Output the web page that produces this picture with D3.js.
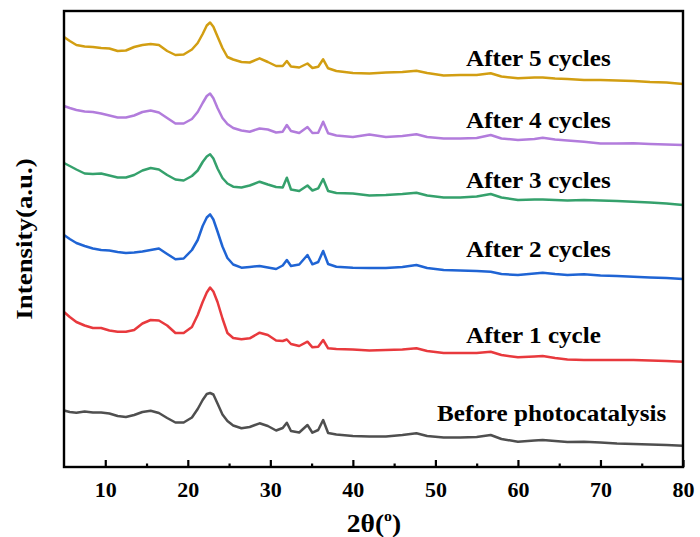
<!DOCTYPE html>
<html>
<head>
<meta charset="utf-8">
<script src="https://cdn.jsdelivr.net/npm/d3@7/dist/d3.min.js"></script>
<style>
  body { margin: 0; background: #fff; }
  svg text { font-family: "Liberation Serif", "Times New Roman", serif; font-weight: bold; fill: #000; }
</style>
</head>
<body>
<div id="wrapper"></div>
<script>
// 2theta (degres) commun a toutes les courbes
var twoTheta = [5, 5.7, 6.5, 7.5, 8.5, 9.5, 10.5, 11.5, 12.5, 13.5, 14.5, 15.5, 16.5, 17.5, 18.5, 19.5,
  20.5, 21.2, 21.8, 22.3, 22.7, 23.1, 23.6, 24.2, 24.8, 25.5, 26.5, 27.5, 28.7, 29.7, 30.7, 31.5,
  32.0, 32.5, 33.5, 34.5, 35.1, 35.8, 36.4, 37.0, 38, 40, 42, 44, 46, 47.7, 49, 51,
  53, 55, 56.7, 58, 60, 62, 63, 64.5, 66, 68, 70, 72, 74, 76, 78, 80];

// intensites (a.u., deja decalees verticalement)
var beforeCat = [56.5, 55, 54.3, 55.5, 54.5, 54.5, 53.5, 51, 50, 52, 55, 56.3, 54, 49, 44.5, 44.5,
  49.5, 58, 67, 73, 74, 72.5, 63.5, 52.5, 46, 41.5, 38.7, 40, 43.7, 41, 36.5, 39,
  44.3, 36, 34.5, 42, 34.3, 37, 47, 34, 32.5, 31, 30.5, 30.5, 32, 33.7, 31, 29.5,
  29.5, 30, 32, 28, 25.3, 26.5, 27, 26, 25, 25.3, 24.5, 23.5, 23, 22.5, 22, 21.3];
var after1 = [155, 150, 145, 141.5, 139, 139, 136.5, 135.3, 135.3, 137, 143.5, 147, 146.5, 141.5, 134, 134,
  140, 152, 165, 174.5, 179.5, 175.5, 165, 148.5, 134, 129, 127.7, 128.7, 134.3, 132, 126.5, 126,
  127.5, 123, 121, 125.3, 119.7, 120.3, 127, 118.7, 118, 117.5, 116.5, 117, 117.5, 118.7, 116, 114,
  114, 114, 115.3, 112, 109.7, 110.5, 111, 109, 107.5, 107, 107, 107, 107, 106.5, 106, 105.3];
var after2 = [232, 228, 224, 221, 218.5, 217, 216.5, 215, 214, 214.5, 215.5, 217, 218.5, 213, 207.7, 208.5,
  217, 227, 241, 249.5, 252.7, 247.5, 235.5, 220.5, 209, 202.5, 199.3, 200, 201, 199.5, 198, 201.5,
  207, 201, 202.5, 212, 202.7, 205, 216, 203, 200.3, 199.3, 199, 199, 200, 202, 199, 197,
  196.5, 196, 195.3, 193, 192, 193.5, 194.3, 193, 192, 192.7, 191.5, 191, 190.3, 189.5, 189, 188];
var after3 = [304, 301, 297.5, 293.5, 293, 293.5, 291.5, 289.5, 289.5, 292, 296.5, 299, 297.5, 292, 287.5, 286.5,
  291, 296.5, 305, 310.5, 312.7, 308.5, 298.5, 289, 283.5, 280.3, 279.5, 281.5, 285.3, 282.5, 280, 279.5,
  289.3, 277.5, 276, 281.5, 276.5, 278.7, 288, 276, 274, 273.5, 271.5, 272, 273, 274.3, 271.5, 269.5,
  269.5, 270.5, 273, 269.5, 267, 267.5, 267.5, 267, 266.5, 267, 266.5, 266, 265.3, 264.5, 263.5, 262];
var after4 = [361, 359, 357, 355.5, 355, 353.5, 351.5, 349.5, 349.5, 351.5, 355, 356.5, 354.5, 349, 343.5, 343.5,
  348, 355, 364, 371, 373.5, 368.7, 359, 349, 343, 339, 336.5, 335.3, 338.5, 337.5, 334.5, 335.3,
  342, 336, 334, 340, 334, 334.3, 345.3, 333.7, 331.5, 330, 332.5, 330, 331, 332.7, 330, 328.5,
  328.5, 329, 332, 328.5, 327, 328, 329.3, 327.5, 326.5, 325.3, 323.5, 323.5, 323.7, 323, 322.5, 322];
var after5 = [430, 426, 422, 420.5, 420, 419, 418.5, 416, 416.5, 420, 422, 423, 422, 416, 412, 412.5,
  417.5, 424, 433, 441.5, 444.5, 440.3, 430.5, 419, 410, 407.5, 405, 404.5, 408.7, 405, 401, 401,
  406, 400.5, 399.5, 403.5, 399, 400.3, 407.7, 398.7, 396, 394, 393.5, 394.5, 395, 396.3, 394, 391.5,
  392, 392, 393.7, 390.5, 388.7, 389.5, 389.5, 388.5, 388, 387, 387, 386.5, 386, 385, 384.5, 383];

var seriesNames = ['Before photocatalysis', 'After 1 cycle', 'After 2 cycles', 'After 3 cycles', 'After 4 cycles', 'After 5 cycles'];
var seriesValues = [beforeCat, after1, after2, after3, after4, after5];

// graduations de l'axe x
var majorTicks = [10, 20, 30, 40, 50, 60, 70, 80];
var minorTicks = [15, 25, 35, 45, 55, 65, 75];

// couleurs et placement des etiquettes (mise en page)
var colors = ['#4f4f4f', '#e8393d', '#1f64d4', '#35a16c', '#b27cdc', '#d29e12'];
var labelPos = [[437, 421], [466, 342.5], [466, 256.5], [466, 187.5], [466, 127.5], [466, 65.5]];

var W = 700, H = 537;
var L = 64, R = 683, T = 11, B = 467;

var svg = d3.select('#wrapper').append('svg')
  .attr('width', W).attr('height', H);

var x = d3.scaleLinear().domain([5, 80]).range([L, R]);
var y = d3.scaleLinear().domain([0, 456]).range([B, T]);

var line = d3.line()
  .x(function (d) { return x(d[0]); })
  .y(function (d) { return y(d[1]); });

// courbes
seriesValues.forEach(function (vals, i) {
  var pts = twoTheta.map(function (t, j) { return [t, vals[j]]; });
  svg.append('path')
    .attr('d', line(pts))
    .attr('fill', 'none')
    .attr('stroke', colors[i])
    .attr('stroke-width', 2.5)
    .attr('stroke-linejoin', 'round');
});

// etiquettes (police un peu elargie comme sur l'original)
seriesNames.forEach(function (name, i) {
  svg.append('text')
    .attr('transform', 'translate(' + labelPos[i][0] + ',' + labelPos[i][1] + ') scale(1.07,1)')
    .style('font-size', '23.5px')
    .text(name);
});

// axe x : grandes et petites graduations vers l'interieur
var xAxis = d3.axisBottom(x).tickValues(majorTicks).tickSize(-7).tickPadding(14)
  .tickFormat(d3.format('d'));
var gx = svg.append('g').attr('transform', 'translate(0,' + B + ')').call(xAxis);
gx.select('.domain').remove();
gx.selectAll('line').attr('stroke', '#000').attr('stroke-width', 2.2);
gx.selectAll('text').style('font-size', '22px').attr('fill', '#000')
  .attr('font-family', null);

var gm = svg.append('g').attr('transform', 'translate(0,' + B + ')')
  .call(d3.axisBottom(x).tickValues(minorTicks).tickSize(-3.5).tickFormat(''));
gm.select('.domain').remove();
gm.selectAll('line').attr('stroke', '#000').attr('stroke-width', 2.2);

// cadre
svg.append('rect')
  .attr('x', L).attr('y', T).attr('width', R - L).attr('height', B - T)
  .attr('fill', 'none').attr('stroke', '#000').attr('stroke-width', 2.4);

// titres des axes
var xt = svg.append('text')
  .attr('transform', 'translate(' + 374 + ',532) scale(1.06,1)')
  .attr('text-anchor', 'middle')
  .style('font-size', '26px');
xt.append('tspan').text('2\u03b8(');
xt.append('tspan').text('o').style('font-size', '15px').attr('dy', -11);
xt.append('tspan').text(')').attr('dy', 11);

svg.append('text')
  .attr('transform', 'translate(32,239) rotate(-90) scale(1.17,1)')
  .attr('text-anchor', 'middle')
  .style('font-size', '23px')
  .text('Intensity(a.u.)');
</script>
</body>
</html>
